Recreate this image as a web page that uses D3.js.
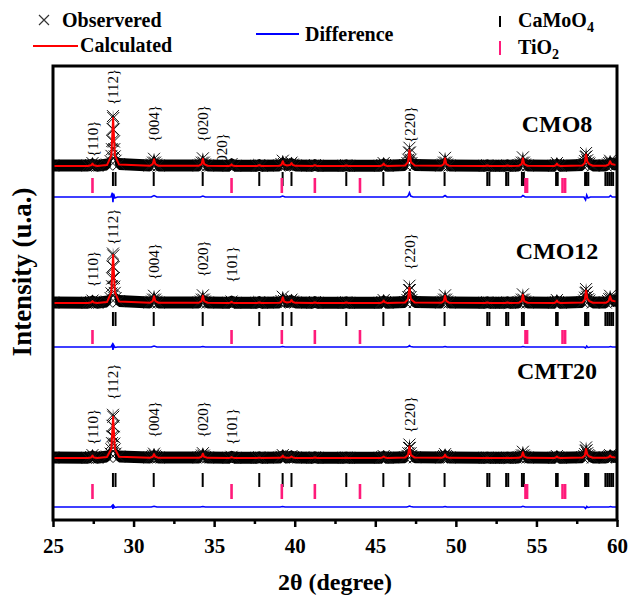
<!DOCTYPE html>
<html><head><meta charset="utf-8">
<script src="https://cdn.jsdelivr.net/npm/d3@7"></script>
<style>
html,body{margin:0;padding:0;background:#fff;}
svg{display:block;font-family:"Liberation Serif","Times New Roman",serif;}
</style></head><body>
<svg id="chart" width="628" height="596"></svg>
<script>
// ---- 2-theta points (degrees) of the calculated profiles
const twoTheta = [25.00,
  27.15,27.37,27.45,27.53,27.75,
  28.35,28.62,28.73,28.84,29.10,
  31.00,31.19,31.27,31.35,31.55,
  34.05,34.22,34.30,34.38,34.60,
  35.90,36.02,36.08,36.14,36.30,
  37.65,37.80,37.95,
  39.05,39.18,39.26,39.34,39.50,39.72,39.80,39.88,40.05,
  41.10,41.25,41.40,
  43.05,43.20,43.35,
  45.30,45.44,45.52,45.60,45.75,
  46.85,47.03,47.12,47.21,47.45,
  49.10,49.25,49.33,49.41,49.60,
  51.80,51.95,52.10,
  53.05,53.20,53.35,
  53.90,54.08,54.16,54.24,54.45,
  56.10,56.20,56.27,56.34,56.50,
  57.85,58.00,58.08,58.16,58.28,58.50,
  59.30,59.48,59.57,59.66,59.80,60.00];

// ---- calculated intensities (a.u., background removed)
const calcCMO8 = [0, 0,1.5,5,1.5,0, 2,22,100,22,3, 0.5,4,14,4,0.5, 0.5,4,15,4,0.5, 0,1,3.5,1,0, 0,1.5,0,
  0.5,3,10,3,1.2,2,6,2,0.3, 0,1.5,0, 0,1,0, 0,1.5,5,1.5,0, 1,8,33,8,1, 0.5,4,16,4,0.5, 0,1,0, 0,1,0,
  0.5,4,16,4,0.5, 0,1.5,5,1.5,0, 1,6,24,9,4,0.5, 0.5,3,10,4,3,2];
const calcCMO12 = [0, 0,1,4,1,0, 2,22,100,22,3, 0.5,4,14,4,0.5, 0.5,4,15,4,0.5, 0,0.8,2.5,0.8,0, 0,1,0,
  0.5,3,12,3,1.2,2,6,2,0.3, 0,1.2,0, 0,1,0, 0,1.5,5,1.5,0, 1,8,32,8,1, 0.5,4,15,4,0.5, 0,1,0, 0,1,0,
  0.5,4,17,4,0.5, 0,1.5,5,1.5,0, 1,7,26,9,4,0.5, 0.5,4,14,5,4,3];
const calcCMT20 = [0, 0,1,5,1,0, 2,19,86,19,2.5, 0.3,2.5,8,2.5,0.3, 0.3,2.5,9,2.5,0.3, 0,0.8,2,0.8,0, 0,0.8,0,
  0.3,1.5,5,1.5,0.6,1,3,1,0.2, 0,1,0, 0,0.6,0, 0,1,3,1,0, 0.8,6,24,6,0.8, 0.3,2,7,2,0.3, 0,0.6,0, 0,0.6,0,
  0.3,3,12,3,0.3, 0,1,3,1,0, 0.8,5,19,7,3,0.4, 0.3,1.5,5,2,1.5,1];

// ---- 2-theta points (degrees) of the observed patterns
const obsTheta = [25.00,
  27.15,27.37,27.45,27.53,27.75,
  28.35,28.58,28.63,28.66,28.68,28.70,28.72,28.74,28.76,28.78,28.80,28.83,28.88,29.10,
  31.00,31.15,31.21,31.27,31.33,31.39,31.55,
  34.05,34.18,34.24,34.30,34.36,34.42,34.60,
  35.90,36.08,36.30,
  37.65,37.80,37.95,
  39.05,39.18,39.26,39.34,39.50,39.72,39.80,39.88,40.05,
  41.10,41.25,41.40,
  43.05,43.20,43.35,
  45.30,45.44,45.52,45.60,45.75,
  46.85,47.00,47.05,47.09,47.12,47.15,47.19,47.24,47.45,
  49.10,49.21,49.27,49.33,49.39,49.45,49.60,
  51.80,51.95,52.10,
  53.05,53.20,53.35,
  53.90,54.04,54.10,54.16,54.22,54.28,54.45,
  56.10,56.20,56.27,56.34,56.50,
  57.85,57.97,58.02,58.05,58.08,58.11,58.15,58.21,58.28,58.50,
  59.30,59.45,59.52,59.57,59.62,59.70,59.80,60.00];

// ---- observed intensities (a.u., background removed)
const obsCMO8 = [1,
  1,2,6,2,0.5,
  3,10,21,35,52,77,104,100,76,51,35,20,11,4,
  1,3,7,15,7,3,1,
  1,3,7,16,7,3,1,
  0.5,4,0.5,
  0.5,2,0.5,
  1,4,11,4,2,3,7,3,1,
  0.5,2,0.5,
  0.5,1.5,0.5,
  0.5,2,6,2,0.5,
  2,6,13,28,38,28,13,6,2,
  1,3,7,17,7,3,1,
  0.5,1.5,0.5,
  0.5,1.5,0.5,
  1,3,7,18,7,3,1,
  0.5,2,6,2,0.5,
  2,5,10,19,27,20,12,7,5,1,
  1,3,6,11,7,4,4,3];
const obsCMO12 = [1,
  0.5,2,5,2,0.5,
  3,10,20,35,51,76,103,99,75,52,34,21,10,4,
  1,3,7,15,7,3,1,
  1,3,7,16,7,3,1,
  0.5,3,0.5,
  0.5,2,0.5,
  1,4,13,4,2,3,7,3,1,
  0.5,2,0.5,
  0.5,1.5,0.5,
  0.5,2,6,2,0.5,
  2,6,12,27,36,27,12,6,2,
  1,3,7,16,7,3,1,
  0.5,1.5,0.5,
  0.5,1.5,0.5,
  1,3,7,18,7,3,1,
  0.5,2,6,2,0.5,
  2,5,11,21,29,22,13,8,5,1,
  1,4,8,15,9,5,5,4];
const obsCMT20 = [1,
  0.5,2,6,2,0.5,
  3,9,18,31,45,67,90,86,66,44,30,18,9,3,
  1,2,4.5,9,4.5,2,1,
  1,2,5,10,5,2,1,
  0.5,2.5,0.5,
  0.5,1.5,0.5,
  1,2.5,6,2.5,1,2,4,2,1,
  0.5,1.5,0.5,
  0.5,1,0.5,
  0.5,1.5,4,1.5,0.5,
  1.5,4.5,10,21,28,21,10,4.5,1.5,
  1,2,4,8,4,2,1,
  0.5,1,0.5,
  0.5,1,0.5,
  1,2.5,5.5,13,5.5,2.5,1,
  0.5,1.5,4,1.5,0.5,
  1.5,4,8,15,22,16,10,6,4,1,
  1,2,3.5,6,4,2.5,2.5,2];

// ---- difference curves (obs - calc)
const diffTheta = [25.00, 28.60,28.68,28.72,28.76,28.84,29.00, 31.10,31.27,31.45, 34.15,34.30,34.45,
  39.10,39.25,39.40, 46.95,47.05,47.12,47.20,47.35, 49.20,49.33,49.45, 54.05,54.16,54.30,
  57.95,58.05,58.12,58.20,58.35, 59.50,59.60,59.70, 60.00];
const diffCMO8  = [0, 0,9,-11,7,-2,0, 0,3,0, 0,2,0, 0,2,0, 0,3,9,2,0, 0,3,0, 0,3,0, 0,-6,4,-2,0, 0,3,0, 0];
const diffCMO12 = [0, 0,5,-6,4,-1,0, 0,2,0, 0,1,0, 0,1,0, 0,1,3,1,0, 0,1,0, 0,1,0, 0,-2,2,-1,0, 0,1,0, 0];
const diffCMT20 = [0, 0,3,-4,3,-1,0, 0,1.5,0, 0,1,0, 0,1,0, 0,1,2,1,0, 0,1,0, 0,1.5,0, 0,-3,1,-1,0, 0,1,0, 0];

// ---- Bragg reflection positions (degrees)
const camoReflections = [28.72,28.88,31.25,34.29,37.8,39.25,39.8,43.2,45.5,47.12,49.3,51.95,52.08,
  53.12,53.25,54.1,54.22,56.22,56.32,58.02,58.12,58.22,59.28,59.4,59.52,59.64,59.76];
const tioReflections = [27.45,36.08,39.2,41.25,44.05,54.32,54.42,56.62,56.78];

// ---- x axis ticks
const majorTicks = [25,30,35,40,45,50,55,60];
const minorTicks = [27.5,32.5,37.5,42.5,47.5,52.5,57.5];

// ---- sample names and Miller-index annotations (height above background, a.u.)
const sampleNames = ["CMO8","CMO12","CMT20"];
const hklCMO8  = [["{110}",27.45,19],["{112}",28.72,127],["{004}",31.25,50],["{020}",34.29,50],["{020}",35.5,-8],["{220}",47.12,48]];
const hklCMO12 = [["{110}",27.45,33],["{112}",28.72,121],["{004}",31.25,48],["{020}",34.29,54],["{101}",36.08,42],["{220}",47.12,69]];
const hklCMT20 = [["{110}",27.45,27],["{112}",28.72,121],["{004}",31.25,42],["{020}",34.29,42],["{101}",36.08,27],["{220}",47.12,52]];

// ---- layout
const plot = {left:53, right:617, top:66, bottom:520};
const panels = [
  {name:sampleNames[0], calc:calcCMO8,  obs:obsCMO8,  diff:diffCMO8,  hkl:hklCMO8,  base:166, camo:[172,186], tio:[178,193], diffY:197, nameY:132},
  {name:sampleNames[1], calc:calcCMO12, obs:obsCMO12, diff:diffCMO12, hkl:hklCMO12, base:303, camo:[312,326], tio:[330,344], diffY:347, nameY:259},
  {name:sampleNames[2], calc:calcCMT20, obs:obsCMT20, diff:diffCMT20, hkl:hklCMT20, base:458, camo:[473,487], tio:[484,499], diffY:507, nameY:379}
];
const PX_PER_100 = 48;
const BAND = 6;               // half-height of the observed marker band (px)
const RED = "#ff0000", BLUE = "#0000ff", PINK = "#ff1a7a";

const svg = d3.select("#chart");
const x = d3.scaleLinear().domain([25,60]).range([plot.left, plot.right]);
const xMark = "M-5,-5L5,5M-5,5L5,-5";
const obsMark = "M-6,-6L6,6M-6,6L6,-6";

svg.append("defs").append("clipPath").attr("id","plotclip")
  .append("rect").attr("x",plot.left).attr("y",plot.top)
  .attr("width",plot.right-plot.left).attr("height",plot.bottom-plot.top);

const g = svg.append("g").attr("clip-path","url(#plotclip)");

panels.forEach(p => {
  const y = d3.scaleLinear().domain([0,100]).range([p.base, p.base - PX_PER_100]);
  const yd = d3.scaleLinear().domain([0,100]).range([p.diffY, p.diffY - PX_PER_100]);
  const gp = g.append("g");

  // Bragg positions
  gp.append("g").selectAll("line").data(camoReflections).join("line")
    .attr("x1",d=>x(d)).attr("x2",d=>x(d)).attr("y1",p.camo[0]).attr("y2",p.camo[1])
    .attr("stroke","#000").attr("stroke-width",2);
  gp.append("g").selectAll("line").data(tioReflections).join("line")
    .attr("x1",d=>x(d)).attr("x2",d=>x(d)).attr("y1",p.tio[0]).attr("y2",p.tio[1])
    .attr("stroke",PINK).attr("stroke-width",2.6);

  // difference curve
  gp.append("path").datum(diffTheta.map((t,i)=>[t,p.diff[i]]))
    .attr("d", d3.line().x(d=>x(d[0])).y(d=>yd(d[1])))
    .attr("fill","none").attr("stroke",BLUE).attr("stroke-width",1.6);

  // Miller-index labels
  gp.append("g").selectAll("text").data(p.hkl).join("text")
    .attr("transform", d=>`translate(${x(d[1])},${y(d[2])}) rotate(-90)`)
    .attr("dy","0.35em").attr("font-size",15).attr("fill","#000")
    .text(d=>d[0]);

  const pts = obsTheta.map((t,i)=>[t,p.obs[i]]);
  // observed: overlapping markers form a dark band
  gp.append("path").datum(pts)
    .attr("d", d3.area().x(d=>x(d[0])).y0(d=>y(d[1])+BAND).y1(d=>y(d[1])-BAND))
    .attr("fill","#000");
  gp.append("g").selectAll("path").data(pts).join("path")
    .attr("transform", d=>`translate(${x(d[0])},${y(d[1])})`)
    .attr("d", obsMark).attr("fill","none").attr("stroke","#111").attr("stroke-width",1);

  // calculated profile
  gp.append("path").datum(twoTheta.map((t,i)=>[t,p.calc[i]]))
    .attr("d", d3.line().x(d=>x(d[0])).y(d=>y(d[1])))
    .attr("fill","none").attr("stroke",RED).attr("stroke-width",2).attr("stroke-linejoin","round");

  // sample name
  svg.append("text").attr("x",557).attr("y",p.nameY).attr("text-anchor","middle")
    .attr("font-size",24).attr("font-weight","bold").text(p.name);
});

// frame
svg.append("rect").attr("x",plot.left).attr("y",plot.top)
  .attr("width",plot.right-plot.left).attr("height",plot.bottom-plot.top)
  .attr("fill","none").attr("stroke","#000").attr("stroke-width",3);

// bottom axis
const axMajor = svg.append("g").attr("transform",`translate(0,${plot.bottom})`)
  .call(d3.axisBottom(x).tickValues(majorTicks).tickSize(7).tickPadding(11).tickFormat(d3.format("d")));
const axMinor = svg.append("g").attr("transform",`translate(0,${plot.bottom})`)
  .call(d3.axisBottom(x).tickValues(minorTicks).tickSize(4).tickFormat(""));
[axMajor, axMinor].forEach(a => {
  a.select(".domain").remove();
  a.selectAll(".tick line").attr("stroke","#000").attr("stroke-width",2.5);
});
axMajor.selectAll(".tick text").attr("font-family","Liberation Serif, Times New Roman, serif")
  .attr("font-size",21).attr("font-weight","bold").attr("fill","#000");

// axis titles
svg.append("text").attr("x",(plot.left+plot.right)/2).attr("y",590).attr("text-anchor","middle")
  .attr("font-size",24).attr("font-weight","bold").text("2θ (degree)");
svg.append("text").attr("transform","translate(31,272) rotate(-90)").attr("text-anchor","middle")
  .attr("font-size",27).attr("font-weight","bold").text("Intensity (u.a.)");

// legend
const lg = svg.append("g").attr("font-size",20).attr("font-weight","bold");
lg.append("path").attr("transform","translate(44,20)").attr("d",xMark)
  .attr("fill","none").attr("stroke","#333").attr("stroke-width",1.2);
lg.append("text").attr("x",62).attr("y",27).text("Observered");
lg.append("line").attr("x1",33).attr("x2",78).attr("y1",46).attr("y2",46).attr("stroke",RED).attr("stroke-width",2);
lg.append("text").attr("x",80).attr("y",52).text("Calculated");
lg.append("line").attr("x1",256).attr("x2",299).attr("y1",34).attr("y2",34).attr("stroke",BLUE).attr("stroke-width",2);
lg.append("text").attr("x",305).attr("y",41).text("Difference");
lg.append("line").attr("x1",500).attr("x2",500).attr("y1",16).attr("y2",27).attr("stroke","#000").attr("stroke-width",2);
const t1 = lg.append("text").attr("x",518).attr("y",27);
t1.append("tspan").text("CaMoO");
t1.append("tspan").attr("dy",5).attr("font-size",14).text("4");
lg.append("line").attr("x1",500).attr("x2",500).attr("y1",41).attr("y2",55).attr("stroke",PINK).attr("stroke-width",2);
const t2 = lg.append("text").attr("x",518).attr("y",54);
t2.append("tspan").text("TiO");
t2.append("tspan").attr("dy",5).attr("font-size",14).text("2");
</script>
</body></html>
